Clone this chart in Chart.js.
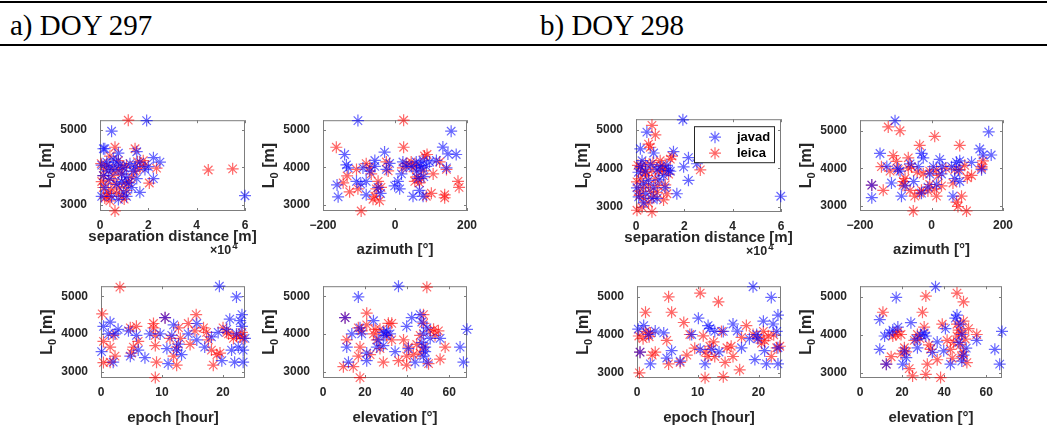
<!DOCTYPE html>
<html><head><meta charset="utf-8">
<script src="https://cdn.jsdelivr.net/npm/chart.js@4.4.1/dist/chart.umd.min.js"></script>
<style>
html,body{margin:0;padding:0;background:#fff;width:1047px;height:444px;overflow:hidden;position:relative;}
.rule{position:absolute;left:0;width:1047px;background:#000;}
.hdr{position:absolute;font-family:"Liberation Serif","DejaVu Serif",serif;font-size:29px;color:#000;line-height:32px;white-space:nowrap;}
canvas{position:absolute;}
</style></head><body>
<div class="rule" style="top:1px;height:2px"></div>
<div class="hdr" style="left:10px;top:9px">a) DOY 297</div>
<div class="hdr" style="left:540px;top:9px">b) DOY 298</div>
<div class="rule" style="top:44px;height:2px"></div>
<script>
// ---------------- data ----------------
const seriesNames = ['javad', 'leica'];
const yTicks = [3000, 4000, 5000];
const yRange297 = [2830, 5265];
const yRange298 = [2865, 5280];
const sepTicks = [0, 20000, 40000, 60000];   // shown as 0,2,4,6 (x10^4)
const azTicks = [-200, 0, 200];
const epTicks = [0, 10, 20];
const elTicks = [0, 20, 40, 60];
const titles = ['a) DOY 297', 'b) DOY 298'];
const xTitles = ['separation distance [m]', 'azimuth [°]', 'epoch [hour]', 'elevation [°]'];
const yTitleParts = ['L', '0', ' [m]'];   // L_0 [m]

// DOY 297 — separation distance [m] vs L0
const sep297Javad = [[19300,5255],[4800,4970],[60000,3240],[16500,3330],[22100,3700],[22100,4260],[24800,4140],[2000,4500],[7600,4380],[15200,4420],[700,3220],[1400,4500],[2800,4140],[4100,4020],[6200,3940],[8300,4060],[10300,3980],[12400,4100],[14500,4020],[16500,4140],[4100,3700],[6900,3540],[9000,3620],[11000,3740],[2100,3460],[4800,3220],[7600,3140],[11000,3220],[13100,3460],[15200,3700],[18600,3940],[20000,4020],[5500,4220],[3400,3900],[700,4060],[1400,3780],[9000,3820],[11700,3580],[6900,4140],[13800,3900],[9700,3340]];
const sep297Leica = [[11700,5265],[6200,2830],[44800,3930],[54900,3960],[6200,4540],[14500,4500],[23400,3980],[20400,3580],[700,3620],[1400,3460],[2800,3220],[4100,3100],[3400,3300],[6900,3300],[9000,3220],[11000,3380],[13100,3740],[14500,3900],[11000,4060],[7600,4180],[4100,4300],[2800,4060],[1400,3780],[5500,3780],[9000,3820],[10300,3580],[6200,3580],[17900,4180],[18600,4060],[16500,3980],[500,4100],[2000,3950],[3500,3650],[5000,3950],[8000,3450],[9500,4000],[12000,3600],[15500,4150],[4500,3400],[7500,3950],[2000,3180],[10000,3150]];
// DOY 297 — azimuth [deg]
const az297Javad = [[-103,5255],[156,4970],[133,4545],[147,4360],[170,4345],[143,3985],[115,4185],[-161,3530],[-158,3210],[-140,4345],[-135,4065],[-130,3985],[-107,3625],[-89,3985],[-80,3625],[-80,3265],[-56,4025],[-56,4185],[-47,3465],[-29,4410],[-24,3945],[-15,4105],[-1,3505],[8,3625],[13,3425],[18,3825],[22,4145],[31,4025],[50,3225],[59,4145],[73,3985],[78,4185],[78,3225],[68,3385],[64,3705],[87,4025],[96,4145],[45,4025],[-70,3900],[-40,3300],[60,3900],[80,3750],[70,4050],[-95,3550]];
const az297Leica = [[-163,4540],[24,5265],[24,4540],[-94,2830],[-144,3585],[-133,3770],[-126,3345],[-103,3425],[-107,3945],[-80,4100],[-66,3825],[-70,4000],[-56,3225],[-43,3105],[-61,3145],[-47,3625],[-52,3425],[-39,3465],[-24,4145],[-19,3905],[22,3985],[31,4105],[45,4145],[59,4065],[68,3585],[82,4305],[89,4345],[59,3745],[78,3905],[87,3225],[101,3305],[106,3825],[124,4145],[138,3265],[138,3185],[143,3945],[175,3625],[178,3465],[55,3625],[50,3985],[73,3705]];
// DOY 297 — epoch [hour]
const ep297Javad = [[19.4,5265],[22.2,4980],[0.1,3530],[0.4,4200],[1.5,4310],[1.2,4000],[2.0,3250],[2.3,4000],[2.8,4120],[4.5,4080],[4.8,3410],[5.8,3960],[6.1,3570],[7.2,3370],[8.0,4000],[9.7,4000],[10.5,4430],[10.8,3610],[11.0,3210],[11.6,3960],[11.9,4240],[12.4,3570],[12.7,3730],[13.2,3450],[14.3,4000],[15.7,4275],[15.7,3840],[17.0,3650],[18.1,3920],[19.2,4040],[19.8,3290],[20.6,4120],[21.1,4390],[21.4,3570],[21.9,3250],[22.2,4000],[22.8,4350],[23.1,4510],[23.3,3570],[23.3,3250],[23.6,3880],[23.1,4200],[22.5,3650]];
const ep297Leica = [[3.1,5240],[8.9,2840],[0.2,4530],[0.4,3800],[0.4,3240],[1.5,3250],[2.3,3410],[1.5,3650],[2.0,3960],[4.8,4160],[5.0,3490],[5.8,4200],[6.1,3800],[5.3,3650],[8.6,4275],[8.9,3960],[8.9,3690],[9.1,3250],[8.6,4160],[10.5,4430],[11.3,3880],[11.9,3410],[12.4,3170],[12.4,3650],[12.7,4160],[13.0,3880],[14.3,4275],[14.6,3720],[15.4,4080],[15.6,4510],[16.8,4160],[17.3,4040],[18.1,3570],[18.4,3170],[19.0,3450],[19.5,3490],[20.0,4160],[20.6,4040],[20.9,4000],[21.7,3880],[22.2,3960],[22.8,3920],[23.1,4040],[23.3,3880],[17.6,3840]];
// DOY 297 — elevation [deg]
const el297Javad = [[35.9,5265],[16.8,4980],[10.5,4430],[11.3,3650],[12.1,3250],[13.7,4000],[17.6,4160],[18.4,4000],[20.8,3290],[20.8,3490],[24.0,4350],[25.6,3650],[26.3,3840],[28.7,4040],[29.5,3960],[30.3,4080],[31.9,4000],[28.7,3690],[34.3,3530],[39.8,4200],[40.6,3610],[42.2,4430],[43.8,3250],[46.2,4510],[47.0,4315],[47.8,4000],[47.8,3410],[48.6,3650],[49.4,3250],[49.4,4160],[51.0,3880],[55.7,3880],[65.2,3650],[66.8,3250],[68.5,4120],[47.0,3770],[48.6,3530]];
const el297Leica = [[49.4,5240],[17.6,2840],[10.5,4430],[20.8,4550],[11.3,3840],[9.7,3130],[14.4,3130],[16.8,3410],[17.6,3650],[18.4,4080],[16.8,4160],[20.8,4240],[24.0,4000],[24.8,4120],[22.4,3450],[25.6,3840],[27.1,3610],[28.7,3250],[27.1,4120],[31.1,4280],[32.7,4280],[30.3,3960],[32.7,3840],[35.9,3290],[38.3,3840],[39.8,3410],[39.8,3170],[40.6,3650],[43.0,3450],[44.6,3720],[46.2,3960],[47.8,4510],[47.8,4280],[50.2,3210],[51.0,4080],[52.6,4120],[54.9,4080],[55.7,3330],[53.3,3960],[58.1,3650],[47.8,3650],[46.2,3490]];

// DOY 298 — separation distance [m]
const sep298Javad = [[19400,5265],[4500,4945],[1800,4510],[7300,4400],[15500,4435],[21700,4280],[25200,4120],[19700,4040],[21700,3690],[16900,3340],[59900,3275],[1100,3260],[400,3495],[2500,4200],[3900,3925],[5200,3690],[7300,3495],[8700,3965],[10000,4045],[11400,3810],[12800,4080],[14200,3925],[6600,3220],[8700,3220],[3200,3100],[1000,3900],[2000,4050],[3000,3600],[6000,4100],[9500,3700],[12000,3500],[4000,3350],[13500,3950]];
const sep298Leica = [[6600,5120],[8000,4870],[400,2910],[2500,2990],[6600,2870],[5200,4630],[5900,4550],[14900,4320],[14200,4240],[26600,3960],[400,3650],[1100,3415],[1800,4040],[3900,4120],[4500,3810],[5200,3570],[6600,3965],[8000,3730],[8700,3375],[9400,3925],[10700,4080],[12100,3570],[12800,3340],[13500,3850],[11400,3180],[3200,3220],[5200,3100],[1800,3730],[10000,4200],[2500,3925],[7300,3260],[12100,4000],[800,4080],[3000,3500],[4000,3900],[7000,4150],[9000,3550],[11000,3950],[1500,3300],[6000,3400]];
// DOY 298 — azimuth [deg]
const az298Javad = [[-102,5265],[160,4970],[-144,4395],[-167,3220],[-167,3555],[-112,3610],[-84,3260],[-88,3925],[-60,4120],[-74,3535],[-28,4395],[-28,3340],[-37,4045],[-23,4280],[-5,3850],[5,4045],[23,4240],[28,3850],[14,3570],[56,4045],[70,4160],[65,3730],[60,3260],[79,4200],[112,4160],[135,4515],[144,4355],[167,4355],[140,3965],[79,3650],[-95,4000],[-50,3650],[30,4050],[75,3950],[-10,3500],[-125,4050]];
const az298Leica = [[-121,5100],[-88,5000],[9,4850],[-33,4610],[79,4610],[-167,3555],[-135,3415],[-107,4340],[-140,4045],[-98,4185],[-116,3925],[-93,3965],[-79,3650],[-74,3730],[-65,4005],[-56,4045],[-60,3415],[-51,2865],[-33,3340],[-28,3415],[-47,3260],[-23,3850],[-5,3570],[9,3455],[14,3260],[14,3965],[19,3810],[28,3535],[60,3610],[65,3965],[70,3100],[74,2985],[84,3260],[79,3965],[93,4080],[98,2865],[112,3810],[140,4045],[144,4200],[140,4005],[-5,3925],[-65,4280],[-80,3550],[40,4000],[100,3750],[-40,3900],[-10,3400]];
// DOY 298 — epoch [hour]
const ep298Javad = [[19.1,5265],[22.1,4985],[0.5,3545],[1.1,4245],[1.9,4010],[2.2,3235],[4.4,4050],[4.9,3390],[5.7,3585],[7.1,3310],[9.0,4010],[10.1,4440],[10.4,3620],[11.2,3235],[11.7,4245],[12.3,3620],[12.0,4170],[12.8,4090],[14.2,4090],[15.8,4285],[17.2,3660],[19.4,3350],[19.7,4010],[19.9,3895],[20.8,4360],[21.0,3585],[21.3,3235],[22.4,4285],[23.2,4520],[23.2,3660],[23.2,3235],[23.0,4090],[0.2,4150],[3.0,4100],[13.5,3550],[18.5,3900],[16.5,4100]];
const ep298Leica = [[5.2,5000],[10.4,5100],[13.4,4870],[1.4,4595],[5.7,4595],[0.4,3000],[11.2,2870],[14.2,2900],[0.5,3545],[0.3,3970],[1.4,4090],[2.2,4050],[2.5,3465],[3.0,3545],[4.9,3855],[5.2,3235],[7.1,3275],[7.7,4325],[8.2,3465],[8.7,4010],[10.9,3975],[11.2,3545],[11.7,3430],[12.0,3700],[12.6,3815],[12.8,3430],[13.9,4090],[14.5,3275],[14.8,3660],[15.8,3430],[16.9,3080],[17.2,3935],[18.0,4245],[19.1,4010],[19.9,3935],[20.8,4090],[21.6,3975],[22.1,3430],[23.0,3660],[23.5,3700],[20.5,3780],[1.0,3900],[2.0,3950],[9.5,3650],[15.5,3700],[21.0,3850],[22.5,4000]];
// DOY 298 — elevation [deg]
const el298Javad = [[35.9,5265],[17.2,4985],[9.4,4400],[9.4,3620],[11.7,3970],[12.5,3230],[15.6,4125],[18.0,4205],[20.3,3230],[21.1,3580],[24.2,4320],[26.6,3890],[27.3,3660],[30.5,4050],[31.3,3970],[34.4,3540],[36.7,3815],[39.8,3580],[40.6,4165],[43.0,3230],[45.3,4440],[46.1,4520],[47.7,4280],[48.4,4010],[48.4,3310],[49.2,3465],[55.5,3855],[64.1,3620],[66.4,3230],[67.5,4090],[14.0,4050],[29.0,4000],[47.0,3800],[50.5,3650],[22.0,3400]];
const el298Leica = [[46.1,5100],[49.2,4870],[31.3,5020],[29.7,4595],[10.9,4595],[12.5,3230],[14.8,3425],[15.6,3970],[18.0,4090],[19.5,4010],[19.5,3500],[21.1,3660],[23.4,3110],[25.0,2920],[25.8,3855],[27.3,4010],[30.5,4205],[31.3,2960],[32.0,3230],[32.8,3735],[33.6,3620],[36.7,3345],[38.3,2875],[39.1,4280],[41.4,3855],[43.0,3620],[43.8,3385],[46.1,3970],[46.9,4125],[47.7,3735],[48.4,3425],[48.4,4050],[49.2,4360],[50.0,3890],[50.8,3270],[51.6,4165],[55.5,4010],[46.1,4280],[22.0,3550],[28.5,3900],[44.5,3800],[49.0,3550],[17.0,4000]];

// ---------------- drawing ----------------
const FONT = '"Liberation Sans", Arial, Helvetica, sans-serif';
const AX = '#262626';
const FRAME = '#7d7d7d';
const COLORS = ['rgba(0,0,255,0.6)', 'rgba(255,0,0,0.6)'];
const PL = 70, PT = 10, PR = 25, PB = 50;

function fmt(div) {
  return v => String(Math.round(v / div * 1000) / 1000).replace('-', '\u2212');
}

function drawStar(ctx, x, y, r) {
  const d = r * Math.SQRT1_2;
  ctx.beginPath();
  ctx.moveTo(x - r, y); ctx.lineTo(x + r, y);
  ctx.moveTo(x, y - r); ctx.lineTo(x, y + r);
  ctx.moveTo(x - d, y - d); ctx.lineTo(x + d, y + d);
  ctx.moveTo(x - d, y + d); ctx.lineTo(x + d, y - d);
  ctx.stroke();
}

const framePlugin = {
  id: 'frame',
  beforeDatasetsDraw(chart) {
    const { ctx, chartArea: a, scales: { x, y } } = chart;
    ctx.save();
    ctx.strokeStyle = FRAME; ctx.lineWidth = 1;
    ctx.strokeRect(a.left + 0.5, a.top + 0.5, a.right - a.left - 1, a.bottom - a.top - 1);
    ctx.beginPath();
    x.ticks.forEach(t => {
      const px = Math.round(x.getPixelForValue(t.value)) + 0.5;
      ctx.moveTo(px, a.bottom); ctx.lineTo(px, a.bottom - 3);
      ctx.moveTo(px, a.top); ctx.lineTo(px, a.top + 3);
    });
    y.ticks.forEach(t => {
      const py = Math.round(y.getPixelForValue(t.value)) + 0.5;
      ctx.moveTo(a.left, py); ctx.lineTo(a.left + 3, py);
      ctx.moveTo(a.right, py); ctx.lineTo(a.right - 3, py);
    });
    ctx.stroke();
    ctx.restore();
  }
};

const extrasPlugin = {
  id: 'extras',
  afterDraw(chart, args, opts) {
    const { ctx, chartArea: a } = chart;
    ctx.save();
    // y axis title L_0 [m] (rotated, with subscript)
    ctx.fillStyle = AX;
    ctx.translate(a.left - 53, (a.top + a.bottom) / 2);
    ctx.rotate(-Math.PI / 2);
    ctx.textBaseline = 'middle'; ctx.textAlign = 'left';
    const big = 'bold 16px ' + FONT, small = 'bold 11px ' + FONT;
    ctx.font = big; const w1 = ctx.measureText(yTitleParts[0]).width, w3 = ctx.measureText(yTitleParts[2]).width;
    ctx.font = small; const w2 = ctx.measureText(yTitleParts[1]).width;
    let xx = -(w1 + w2 + w3) / 2;
    ctx.font = big; ctx.fillText(yTitleParts[0], xx, 0); xx += w1;
    ctx.font = small; ctx.fillText(yTitleParts[1], xx, 5); xx += w2;
    ctx.font = big; ctx.fillText(yTitleParts[2], xx, 0);
    ctx.setTransform(1, 0, 0, 1, 0, 0);
    if (opts.sepTitle) {
      ctx.fillStyle = AX;
      ctx.font = 'bold 12.5px ' + FONT;
      ctx.textBaseline = 'middle'; ctx.textAlign = 'left';
      const x0 = a.right - 35;
      ctx.fillText('×10', x0, a.bottom + 40);
      const w = ctx.measureText('×10').width;
      ctx.font = 'bold 9.5px ' + FONT;
      ctx.fillText('4', x0 + w + 1, a.bottom + 35);
      ctx.font = 'bold 15px ' + FONT;
      ctx.textAlign = 'center';
      ctx.fillText(opts.sepTitle, (a.left + a.right) / 2, a.bottom + 26);
    }
    if (opts.legend) {
      const bx = a.left + 58, by = a.top + 7, bw = 80, bh = 36;
      ctx.fillStyle = '#fff';
      ctx.fillRect(bx, by, bw, bh);
      ctx.strokeStyle = AX; ctx.lineWidth = 1;
      ctx.strokeRect(bx + 0.5, by + 0.5, bw, bh);
      chart.data.datasets.forEach((ds, i) => {
        const yy = by + 11 + i * 16;
        ctx.strokeStyle = ds.borderColor; ctx.lineWidth = 1.2;
        drawStar(ctx, bx + 21, yy, 6);
        ctx.fillStyle = '#000';
        ctx.font = 'bold 13px ' + FONT;
        ctx.textAlign = 'left'; ctx.textBaseline = 'middle';
        ctx.fillText(ds.label, bx + 43, yy);
      });
    }
    ctx.restore();
  }
};

function makePanel(rect, xMin, xMax, xTickVals, xDiv, xTitle, titleOffset, yRange, javad, leica, extra) {
  const [L, T, R, B] = rect;
  const cv = document.createElement('canvas');
  cv.width = R - L + PL + PR; cv.height = B - T + PT + PB;
  cv.style.left = (L - PL) + 'px'; cv.style.top = (T - PT) + 'px';
  cv.style.width = cv.width + 'px'; cv.style.height = cv.height + 'px';
  document.body.appendChild(cv);
  const tickFont = { family: FONT, size: 12, weight: 'bold' };
  const titleFont = { family: FONT, size: 15, weight: 'bold' };
  const mk = (pts, i) => ({
    label: seriesNames[i],
    data: pts.map(p => ({ x: p[0], y: p[1] })),
    pointStyle: 'star', pointRadius: 6, pointBorderWidth: 1.2,
    borderColor: COLORS[i], backgroundColor: COLORS[i], showLine: false, clip: false
  });
  return new Chart(cv, {
    type: 'scatter',
    data: { datasets: [mk(javad, 0), mk(leica, 1)] },
    options: {
      responsive: false, animation: false, devicePixelRatio: 1,
      layout: { padding: { left: 0, top: PT, right: PR, bottom: 0 } },
      plugins: { legend: { display: false }, tooltip: { enabled: false }, extras: extra || {} },
      scales: {
        x: {
          type: 'linear', min: xMin, max: xMax,
          afterBuildTicks: s => { s.ticks = xTickVals.map(v => ({ value: v })); },
          afterFit: s => { s.height = PB; },
          grid: { display: false, drawTicks: false }, border: { display: false },
          ticks: { font: tickFont, color: AX, padding: 7, maxRotation: 0, autoSkip: false, callback: fmt(xDiv) },
          title: { display: !!xTitle, text: xTitle || '', font: titleFont, color: AX,
                   padding: { top: 0, bottom: PB - 9 - titleOffset } }
        },
        y: {
          type: 'linear', min: yRange[0], max: yRange[1],
          afterBuildTicks: s => { s.ticks = yTicks.map(v => ({ value: v })); },
          afterFit: s => { s.width = PL; },
          grid: { display: false, drawTicks: false }, border: { display: false },
          ticks: { font: tickFont, color: AX, padding: 13, autoSkip: false, callback: fmt(1) },
          title: { display: false }
        }
      }
    },
    plugins: [framePlugin, extrasPlugin]
  });
}

// DOY 297
makePanel([100, 110, 245, 211], 0, 60000, sepTicks, 10000, null, 26, yRange297, sep297Javad, sep297Leica, { sepTitle: xTitles[0] });
makePanel([323, 110, 467, 211], -200, 200, azTicks, 1, xTitles[1], 39, yRange297, az297Javad, az297Leica);
makePanel([101, 276, 245, 378], 0, 23.6, epTicks, 1, xTitles[2], 40, yRange297, ep297Javad, ep297Leica);
makePanel([323, 276, 467, 378], 0, 68.5, elTicks, 1, xTitles[3], 40, yRange297, el297Javad, el297Leica);
// DOY 298
makePanel([636, 109, 781, 212], 0, 60000, sepTicks, 10000, null, 26, yRange298, sep298Javad, sep298Leica, { sepTitle: xTitles[0], legend: true });
makePanel([860, 110, 1003, 211], -200, 200, azTicks, 1, xTitles[1], 39, yRange298, az298Javad, az298Leica);
makePanel([637, 276, 781, 378], 0, 23.7, epTicks, 1, xTitles[2], 40, yRange298, ep298Javad, ep298Leica);
makePanel([860, 276, 1002, 378], 0, 67.5, elTicks, 1, xTitles[3], 40, yRange298, el298Javad, el298Leica);
</script>
</body></html>
